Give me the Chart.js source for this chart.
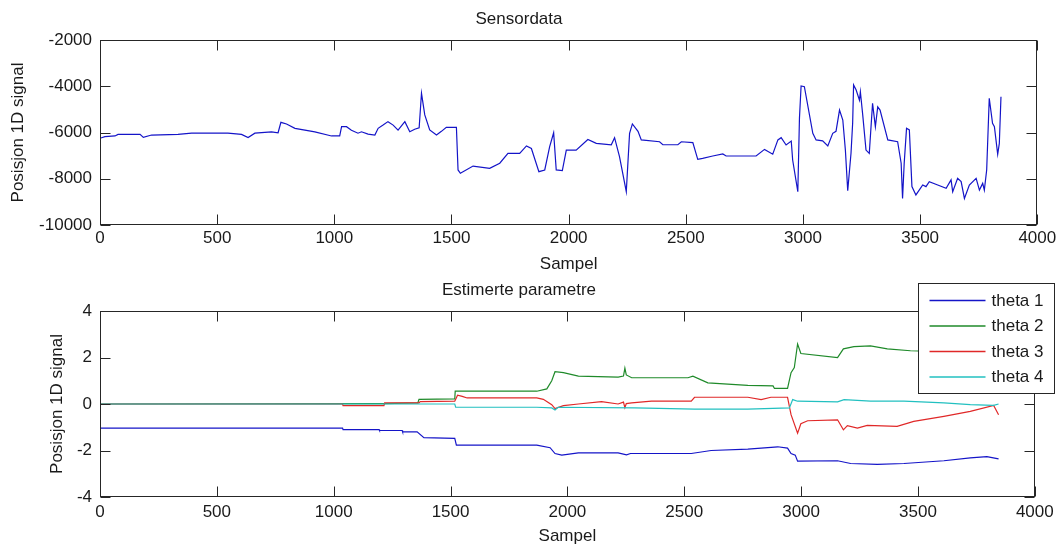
<!DOCTYPE html>
<html>
<head>
<meta charset="utf-8">
<script src="https://cdn.jsdelivr.net/npm/chart.js@4/dist/chart.umd.min.js"></script>
<style>
  html,body{margin:0;padding:0;background:#fff;}
  #wrap{position:relative;width:1059px;height:548px;overflow:hidden;background:#fff;}
  canvas{position:absolute;left:0;}
  #c1{top:0;}
  #c2{top:276px;}
</style>
</head>
<body>
<div id="wrap">
  <canvas id="c1" width="1059" height="276"></canvas>
  <canvas id="c2" width="1059" height="272"></canvas>
</div>
<script>
// ---------- DATA ----------
const xTicks = [0, 500, 1000, 1500, 2000, 2500, 3000, 3500, 4000];
const sensorTicks = [-10000, -8000, -6000, -4000, -2000];
const thetaTicks = [-4, -2, 0, 2, 4];

const sensorSamples = [
  0,21,64,77,171,185,220,333,391,546,604,632,661,732,760,772,796,832,917,988,
  1023,1031,1052,1073,1101,1116,1144,1173,1187,1208,1229,1251,1272,1301,1322,1343,1362,1372,1386,1407,
  1436,1457,1478,1521,1528,1538,1592,1663,1706,1741,1791,1820,1841,1873,1898,1919,1936,1947,1973,1990,
  2032,2082,2118,2182,2196,2217,2246,2260,2272,2296,2310,2388,2402,2466,2481,2530,2551,2572,2615,2658,
  2672,2800,2836,2871,2893,2907,2928,2950,2956,2978,2985,2992,3006,3042,3056,3084,3106,3127,3141,3156,
  3170,3181,3191,3205,3212,3216,3227,3241,3245,3255,3269,3283,3297,3309,3319,3329,3362,3404,3419,3425,
  3432,3442,3454,3465,3482,3511,3525,3539,3575,3611,3632,3639,3660,3675,3689,3710,3739,3753,3767,3774,
  3784,3795,3809,3817,3831,3838,3845
];
const sensorValues = [
  -6250,-6180,-6150,-6080,-6080,-6210,-6110,-6080,-6030,-6030,-6080,-6220,-6030,-5970,-6010,-5560,-5630,-5820,-5970,-6150,
  -6150,-5750,-5750,-5900,-6030,-5970,-6070,-6110,-5820,-5680,-5530,-5680,-5900,-5530,-5970,-5860,-5800,-4305,-5240,-5890,
  -6110,-5950,-5775,-5775,-7620,-7765,-7450,-7550,-7330,-6900,-6900,-6580,-6690,-7695,-7620,-6610,-6010,-7620,-7650,-6760,
  -6760,-6300,-6470,-6530,-6225,-7045,-8560,-6040,-5630,-5950,-6320,-6400,-6530,-6530,-6400,-6440,-7160,-7120,-7016,-6930,
  -7016,-7016,-6730,-6940,-6320,-6225,-6540,-6370,-7190,-8560,-5385,-3990,-4020,-6035,-6320,-6360,-6580,-6035,-5950,-5030,
  -5460,-6760,-8520,-6900,-5600,-3945,-4165,-4600,-4240,-5240,-6760,-6900,-4740,-5750,-4890,-5030,-6320,-6400,-7330,-8850,
  -7330,-5820,-5890,-8340,-8700,-8270,-8340,-8125,-8270,-8410,-8050,-8560,-7980,-8125,-8850,-8270,-7980,-8490,-8200,-8490,
  -7620,-4520,-5600,-5750,-6940,-6470,-4450
];

const theta1Samples = [0,1038,1040,1194,1196,1293,1295,1357,1386,1518,1525,1869,1926,1947,1976,2047,2217,2253,2270,2530,2615,2772,2900,2942,2957,2975,2985,3156,3212,3326,3440,3611,3724,3795,3845];
const theta1Values  = [-1.04,-1.04,-1.1,-1.1,-1.14,-1.14,-1.2,-1.2,-1.45,-1.48,-1.77,-1.77,-1.88,-2.13,-2.2,-2.1,-2.1,-2.19,-2.13,-2.13,-2.0,-1.94,-1.84,-1.9,-2.13,-2.2,-2.46,-2.44,-2.56,-2.6,-2.56,-2.44,-2.32,-2.26,-2.36];

const theta2Samples = [0,1215,1360,1365,1518,1520,1869,1912,1933,1947,1983,2047,2217,2240,2246,2252,2275,2516,2537,2601,2772,2880,2886,2942,2957,2971,2985,2999,3156,3181,3226,3297,3369,3468,3600,3845];
const theta2Values  = [0,0.02,0.05,0.2,0.22,0.55,0.55,0.65,1.0,1.39,1.35,1.2,1.16,1.2,1.54,1.25,1.13,1.13,1.2,0.91,0.8,0.78,0.67,0.67,1.35,1.57,2.58,2.17,2.0,2.37,2.47,2.5,2.37,2.29,2.25,2.2];

const theta3Samples = [0,1038,1040,1215,1218,1365,1370,1518,1530,1550,1571,1869,1897,1933,1947,1983,2047,2146,2217,2240,2246,2252,2275,2360,2530,2544,2772,2829,2871,2942,2957,2985,2999,3028,3156,3181,3198,3241,3283,3411,3482,3611,3724,3824,3845];
const theta3Values  = [0,0,-0.07,-0.07,0.05,0.05,0.1,0.12,0.38,0.33,0.26,0.26,0.2,-0.03,-0.2,-0.07,0,0.1,0,0.08,-0.16,0.02,0.05,0.12,0.12,0.29,0.29,0.19,0.29,0.29,-0.46,-1.26,-0.85,-0.72,-0.68,-1.11,-0.93,-1.04,-0.92,-0.96,-0.75,-0.53,-0.32,-0.06,-0.46];

const theta4Samples = [0,1518,1522,1869,1933,1947,1960,2289,2544,2772,2950,2964,2985,3156,3184,3297,3440,3611,3724,3824,3845];
const theta4Values  = [0,0,-0.14,-0.14,-0.17,-0.26,-0.14,-0.17,-0.22,-0.22,-0.17,0.19,0.12,0.09,0.19,0.12,0.12,0.05,-0.03,-0.06,0];

const thetaLabels = ['theta 1', 'theta 2', 'theta 3', 'theta 4'];
const thetaColors = ['#1414c8', '#1f8a2a', '#e02828', '#22c0c0'];

// ---------- HELPERS ----------
const FONT = "'Liberation Sans', Arial, Helvetica, sans-serif";
const TXT = '#1a1a1a';
Chart.defaults.font.family = FONT;
Chart.defaults.font.size = 17;
Chart.defaults.color = TXT;

function pts(xs, ys) { return xs.map((x, i) => ({x: x, y: ys[i]})); }

const frameTicks = {
  id: 'frameTicks',
  afterDatasetsDraw(chart) {
    const {ctx, chartArea} = chart;
    const {left, right, top, bottom} = chartArea;
    const xs = chart.scales.x, ys = chart.scales.y;
    ctx.save();
    ctx.strokeStyle = '#262626';
    ctx.lineWidth = 1;
    const L = Math.round(left) + 0.5, R = Math.round(right) - 0.5;
    const T = Math.round(top) + 0.5, B = Math.round(bottom) - 0.5;
    ctx.strokeRect(L, T, R - L, B - T);
    const TL = 10;
    ctx.beginPath();
    xs.ticks.forEach(t => {
      const p = Math.round(xs.getPixelForValue(t.value)) + 0.5;
      ctx.moveTo(p, B); ctx.lineTo(p, B - TL);
      ctx.moveTo(p, T); ctx.lineTo(p, T + TL);
    });
    ys.ticks.forEach(t => {
      const p = Math.round(ys.getPixelForValue(t.value)) + 0.5;
      ctx.moveTo(L, p); ctx.lineTo(L + TL, p);
      ctx.moveTo(R, p); ctx.lineTo(R - TL, p);
    });
    ctx.stroke();
    ctx.restore();
  }
};

const boxLegend = {
  id: 'boxLegend',
  afterDraw(chart) {
    const {ctx, chartArea} = chart;
    const bx = Math.round(chartArea.right) - 116.5;
    const by = Math.round(chartArea.top) - 27.5;
    const bw = 136, bh = 110;
    ctx.save();
    ctx.fillStyle = '#ffffff';
    ctx.fillRect(bx, by, bw, bh);
    ctx.strokeStyle = '#262626';
    ctx.lineWidth = 1;
    ctx.strokeRect(bx, by, bw, bh);
    ctx.font = '17px ' + FONT;
    ctx.textBaseline = 'middle';
    ctx.textAlign = 'left';
    chart.data.datasets.forEach((ds, i) => {
      const y = by + 17 + i * 25.5;
      ctx.strokeStyle = ds.borderColor;
      ctx.lineWidth = 1.3;
      ctx.beginPath();
      ctx.moveTo(bx + 11, y); ctx.lineTo(bx + 67, y);
      ctx.stroke();
      ctx.fillStyle = TXT;
      ctx.fillText(ds.label, bx + 73, y + 0.5);
    });
    ctx.restore();
  }
};

function xScale(labelPad) {
  return {
    type: 'linear', min: 0, max: 4000,
    afterBuildTicks(s) { s.ticks = xTicks.map(v => ({value: v})); },
    ticks: { autoSkip: false, maxRotation: 0, padding: labelPad, callback: v => String(v), color: TXT },
    grid: { display: true, drawOnChartArea: false, drawTicks: false, color: 'rgba(0,0,0,0)' },
    border: { display: false },
    title: { display: true, text: 'Sampel', color: TXT, font: {size: 17}, padding: {top: 0, bottom: 1} },
    afterFit(s) { s.height = 51; }
  };
}
function yScale(min, max, tickArr, titlePad) {
  return {
    type: 'linear', min: min, max: max,
    afterBuildTicks(s) { s.ticks = tickArr.map(v => ({value: v})); },
    ticks: { autoSkip: false, padding: 8, callback: v => String(v), color: TXT },
    grid: { display: true, drawOnChartArea: false, drawTicks: false, color: 'rgba(0,0,0,0)' },
    border: { display: false },
    title: { display: true, text: 'Posisjon 1D signal', color: TXT, font: {size: 17}, padding: {top: titlePad, bottom: 0} },
    afterFit(s) { s.width = 100; }
  };
}

// ---------- TOP CHART ----------
new Chart(document.getElementById('c1'), {
  type: 'line',
  data: {
    datasets: [{
      label: 'Sensordata',
      data: pts(sensorSamples, sensorValues),
      borderColor: '#1414c8',
      borderWidth: 1.2,
      pointRadius: 0,
      tension: 0,
      fill: false
    }]
  },
  options: {
    responsive: false,
    animation: false,
    devicePixelRatio: 1,
    layout: { padding: { left: 0, right: 21, top: 0, bottom: 0 } },
    plugins: {
      legend: { display: false },
      tooltip: { enabled: false },
      title: { display: true, text: 'Sensordata', color: TXT, font: {size: 17, weight: 'normal'}, padding: {top: 9.3, bottom: 10.3} }
    },
    scales: {
      x: xScale(2.8),
      y: yScale(-10000, -2000, sensorTicks, 8)
    }
  },
  plugins: [frameTicks]
});

// ---------- BOTTOM CHART ----------
const thetaSamples = [theta1Samples, theta2Samples, theta3Samples, theta4Samples];
const thetaValues = [theta1Values, theta2Values, theta3Values, theta4Values];
new Chart(document.getElementById('c2'), {
  type: 'line',
  data: {
    datasets: thetaLabels.map((lab, i) => ({
      label: lab,
      data: pts(thetaSamples[i], thetaValues[i]),
      borderColor: thetaColors[i],
      borderWidth: 1.2,
      pointRadius: 0,
      tension: 0,
      fill: false,
      order: 3 - i
    }))
  },
  options: {
    responsive: false,
    animation: false,
    devicePixelRatio: 1,
    layout: { padding: { left: 0, right: 21, top: 0, bottom: 0 } },
    plugins: {
      legend: { display: false },
      tooltip: { enabled: false },
      title: { display: true, text: 'Estimerte parametre', color: TXT, font: {size: 17, weight: 'normal'}, padding: {top: 4.3, bottom: 10.3} }
    },
    scales: {
      x: xScale(5.3),
      y: yScale(-4, 4, thetaTicks, 47)
    }
  },
  plugins: [frameTicks, boxLegend]
});
</script>
</body>
</html>
